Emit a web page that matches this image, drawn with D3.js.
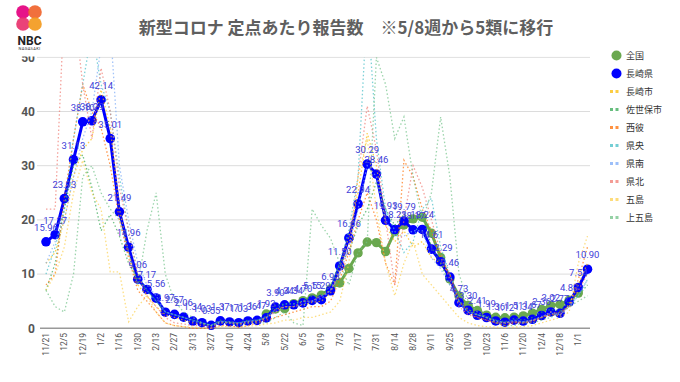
<!DOCTYPE html>
<html><head><meta charset="utf-8">
<script src="https://cdn.jsdelivr.net/npm/d3@7"></script>
<style>
html,body{margin:0;padding:0;background:#fff;}
svg{display:block;}
</style></head>
<body>
<svg id="c" width="680" height="382"></svg>
<script>
const weeks = ["11/21","11/28","12/5","12/12","12/19","12/26","1/2","1/9","1/16","1/23","1/30","2/6","2/13","2/20","2/27","3/6","3/13","3/20","3/27","4/3","4/10","4/17","4/24","5/1","5/8","5/15","5/22","5/29","6/5","6/12","6/19","6/26","7/3","7/10","7/17","7/24","7/31","8/7","8/14","8/21","8/28","9/4","9/11","9/18","9/25","10/2","10/9","10/16","10/23","10/30","11/6","11/13","11/20","11/27","12/4","12/11","12/18","12/25","1/1","1/8"];
const tickLabels = weeks.filter((d,i)=>i%2===0);
const yTicks = [0,10,20,30,40,50];

const nagasakiPref = [15.96,17.27,23.93,31.13,38.10,38.29,42.14,35.01,21.49,14.96,9.06,7.17,5.56,2.97,2.57,2.06,1.34,1.03,0.55,1.37,1.17,1.03,1.36,1.47,1.93,3.90,4.34,4.34,4.70,5.15,5.29,6.93,11.50,16.66,22.94,30.29,28.46,19.93,18.23,19.79,18.17,18.24,14.61,12.29,9.46,4.73,3.30,2.41,1.99,1.36,1.12,1.51,1.34,1.67,2.36,3.02,2.77,4.83,7.54,10.90];
const national = [null,null,null,null,null,null,null,null,null,null,null,null,null,null,null,null,null,null,null,null,null,null,null,null,2.63,3.56,3.63,4.55,5.11,5.60,6.13,7.24,8.35,11.04,13.91,15.91,15.81,14.16,17.84,19.07,20.19,20.50,17.54,13.07,9.09,5.96,4.21,3.28,2.44,2.04,1.95,2.05,2.30,2.80,3.50,4.20,4.40,5.20,6.50,null];

const nagasakiCity = [12,14,20,28,33,35,44,37,22,14,8,6,4,2.5,2,1.5,1,0.8,0.5,1.2,1,0.8,1.2,1.3,1.8,3.5,4,4,4.3,4.8,5,6.5,11,17,25,36,30,19,16,18,15,16,13,12,10,5,3.5,2.5,2,1.2,0.9,1.2,1.1,1.5,2,2.5,2.3,4.5,8,12];
const sasebo = [7,12,22,30,32,26,18,21,17,12,9,7,5,3,2.5,2,1.5,1,0.5,1.5,1.2,1,1.5,1.5,2.2,4.2,4.5,4.5,5,6,6,8,12,14,19,22,27,22,19,21,20,21,15,12,8,5,3.5,2.5,2.3,1.5,1.2,1.8,1.5,2,3,3.5,3.2,5,6,8];
const seihi = [8,10,24,35,45,40,37,30,20,13,7,5,3,1,0.5,0.3,0,0,0,0.5,0.5,0.2,0.5,1,1.5,2,2.5,3,3.5,4,4,5,9,14,20,25,20,12,8,31,28,22,18,13,10,5,3,2,1.5,1,0.5,1,1,1.2,2,2.5,3,4,9,15];
const kenou = [10,15,22,35,45,55,45,40,28,18,10,7,5,3,2.5,2,1.5,1,0.6,1.3,1,1,1.3,1.4,2,3.5,4.5,4.5,5,5,6,7,12,18,28,60,35,22,18,14,16,22,24,15,10,5,3,2.5,2,1.5,1,1.5,1.2,1.5,2,3,2.5,4,6,9];
const kennan = [12,16,20,28,35,40,52,56,30,20,12,8,6,3,2.5,2,1.3,1,0.5,1.3,1.2,1,1.3,1.5,2,3,4,4,4.5,5,5.5,7,10,15,22,30,28,20,17,17,18,18,13,11,8,4.5,3,2.5,2,1.3,1.1,1.4,1.2,1.5,2.2,2.8,2.5,4,6,9];
const kenpoku = [22,22,60,60,45,35,48,40,26,18,10,6,4,2,1,0.8,0.5,0.5,0.2,1,1,0.8,1,1.2,2,3,4,4,5,5,6,7,10,15,28,41,33,20,8,20,30,26,20,14,9,4,2.5,2,1.5,1,1,1.2,1,1.4,2,3,2.5,4,7,10];
const goto = [7,10,15,25,31,25,22,10.4,10.4,1.2,4,6,3,1,0.5,0.3,0.2,0.1,0,0.3,0.3,0.2,0.4,0.5,0.8,1,1.5,1.5,2,2,2.5,3,5,12,28,35,22,12,6,12,16,10,8,6,4,2,1,0.5,0.3,0.2,0.1,0.2,0.3,0.5,1,1.5,2,3,12,17];
const kamigoto = [7,4,3,10,28,30,25,22,20,14,8,18,25,10,5,3,2,1,0.5,1,1,0.5,1,1,1,2,3,1,0.5,22,19,16.6,12,8,14,16,50,45,35,39,28,20,25,39,28,10,5,3,2,1,0.5,0.5,1,1,1.5,2,3,4,5,6];

const seriesNames = ["全国","長崎県","長崎市","佐世保市","西彼","県央","県南","県北","五島","上五島"];
const seriesColors = ["#6aa84f","#0000ff","#fbbc04","#34a853","#ff6d01","#46bdc6","#7baaf7","#f07b72","#fcd04f","#71c287"];
const dottedData = [nagasakiCity,sasebo,seihi,kenou,kennan,kenpoku,goto,kamigoto];

const svg = d3.select("#c");
const x = d3.scalePoint().domain(weeks).range([46, 587.5]);
const y = d3.scaleLinear().domain([0,50]).range([328.3, 57.3]);

svg.append("defs").append("clipPath").attr("id","plot")
  .append("rect").attr("x",30).attr("y",y(50)).attr("width",580).attr("height",y(0)-y(50)+10);

svg.append("g").selectAll("line").data(yTicks.filter(d=>d>0)).join("line")
  .attr("x1",37).attr("x2",590).attr("y1",d=>y(d)).attr("y2",d=>y(d))
  .attr("stroke","#dcdcdc").attr("stroke-width",1);

svg.append("g").selectAll("text").data(yTicks).join("text")
  .attr("x",35).attr("y",d=>y(d)).attr("dy","0.36em").attr("text-anchor","end")
  .attr("font-family","Roboto, Arial, sans-serif").attr("font-weight","bold").attr("font-size",12)
  .attr("fill","#555").text(d=>d);

svg.append("line").attr("x1",40).attr("x2",590).attr("y1",y(0)).attr("y2",y(0))
  .attr("stroke","#999").attr("stroke-width",1.5);

svg.append("g").selectAll("text").data(tickLabels).join("text")
  .attr("transform",d=>`translate(${x(d)},333) rotate(-90)`)
  .attr("dy","0.35em").attr("text-anchor","end")
  .attr("font-family","Roboto, Arial, sans-serif").attr("font-size",8.5)
  .attr("fill","#555").text(d=>d);

const plot = svg.append("g").attr("clip-path","url(#plot)");
const line = d3.line().defined(d=>d!=null).x((d,i)=>x(weeks[i])).y(d=>y(d));

plot.append("path").datum(national).attr("d",line).attr("fill","none")
  .attr("stroke",seriesColors[0]).attr("stroke-width",3);
plot.append("g").selectAll("circle").data(national.map((v,i)=>({v,i})).filter(d=>d.v!=null)).join("circle")
  .attr("cx",d=>x(weeks[d.i])).attr("cy",d=>y(d.v)).attr("r",4.7).attr("fill",seriesColors[0]);

plot.append("path").datum(nagasakiPref).attr("d",line).attr("fill","none")
  .attr("stroke",seriesColors[1]).attr("stroke-width",3);
plot.append("g").selectAll("circle").data(nagasakiPref).join("circle")
  .attr("cx",(d,i)=>x(weeks[i])).attr("cy",d=>y(d)).attr("r",4.8).attr("fill",seriesColors[1]);

dottedData.forEach((arr,k)=>{
  plot.append("path").datum(arr).attr("d",line).attr("fill","none")
    .attr("stroke",seriesColors[k+2]).attr("stroke-width",1.3)
    .attr("stroke-dasharray","1.5,2.3").attr("opacity",0.7);
});

svg.append("g").selectAll("text").data(nagasakiPref).join("text")
  .attr("x",(d,i)=>x(weeks[i])).attr("y",d=>y(d)-11).attr("text-anchor","middle")
  .attr("font-family","Roboto, Arial, sans-serif").attr("font-size",9.5)
  .attr("fill","#4040d8").text(d=>d.toFixed(2));

svg.append("rect").attr("x",0).attr("y",0).attr("width",600).attr("height",56.5).attr("fill","#fff");

const logo = svg.append("g");
[[23,12,"#e4007f"],[35,12,"#f0642d"],[23,24,"#e8336d"],[35,24,"#f39a1e"]].forEach(([cx,cy,c])=>{
  logo.append("circle").attr("cx",cx).attr("cy",cy).attr("r",6.8).attr("fill",c).attr("opacity",0.92);
});
logo.append("text").attr("x",29.5).attr("y",44.5).attr("text-anchor","middle")
  .attr("font-family","Roboto, Arial, sans-serif").attr("font-weight","bold").attr("font-size",12)
  .attr("fill","#222").text("NBC");
logo.append("text").attr("x",29.5).attr("y",50).attr("text-anchor","middle")
  .attr("font-family","Roboto, Arial, sans-serif").attr("font-size",4).attr("letter-spacing",0.3)
  .attr("fill","#333").text("NAGASAKI");

svg.append("text").attr("x",346).attr("y",34).attr("text-anchor","middle")
  .attr("font-family","'Noto Sans CJK JP', sans-serif").attr("font-weight","bold").attr("font-size",17)
  .attr("fill","#5f5f5f").text("新型コロナ 定点あたり報告数　※5/8週から5類に移行");

const lg = svg.append("g");
seriesNames.forEach((n,k)=>{
  const yy = 55.5 + k*18;
  if(k<2){
    lg.append("circle").attr("cx",616.5).attr("cy",yy).attr("r",5).attr("fill",seriesColors[k]);
  } else {
    [611.5,617].forEach(xx=>lg.append("rect").attr("x",xx-1.5).attr("y",yy-1.5).attr("width",3).attr("height",3)
      .attr("fill",seriesColors[k]).attr("opacity",0.75));
  }
  lg.append("text").attr("x",626).attr("y",yy).attr("dy","0.35em")
    .attr("font-family","'Noto Sans CJK JP', sans-serif").attr("font-size",9)
    .attr("fill","#333").text(n);
});
</script>
</body></html>
